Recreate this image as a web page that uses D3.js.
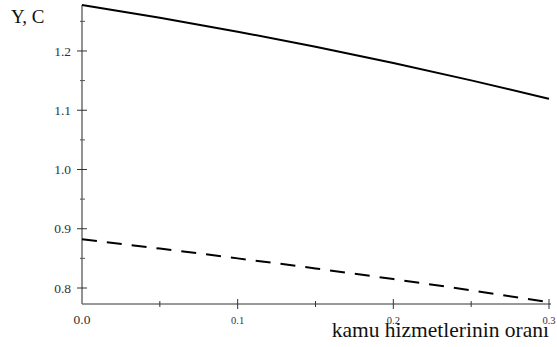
<!DOCTYPE html>
<html>
<head>
<meta charset="utf-8">
<script src="https://cdn.jsdelivr.net/npm/d3@7"></script>
<style>
  body { margin: 0; background: #fff; }
  text { font-family: "Liberation Serif", "Times New Roman", serif; }
</style>
</head>
<body>
<div id="vis"></div>
<script>
// values
const share = [0, 0.05, 0.1, 0.15, 0.2, 0.25, 0.3];
const yValues = [1.2776, 1.2561, 1.2326, 1.2072, 1.1798, 1.1504, 1.1194];
const cValues = [0.8822, 0.8665, 0.8500, 0.8330, 0.8150, 0.7960, 0.7760];
const xMajor = [0.1, 0.2, 0.3];
const xMinor = [0.05, 0.15, 0.25];
const xLabels = [0.0, 0.1, 0.2, 0.3];
const yMajor = [0.8, 0.9, 1.0, 1.1, 1.2];
const yMinor = [0.85, 0.95, 1.05, 1.15, 1.25];

const width = 557, height = 347;
const svg = d3.select("#vis").append("svg")
  .attr("width", width).attr("height", height);

const x = d3.scaleLinear().domain([0, 0.3]).range([82, 549]);
const y = d3.scaleLinear().domain([0.773, 1.2776]).range([304, 5]);
const y0 = y(0.773);

// x axis
const gx = svg.append("g");
gx.append("line")
  .attr("x1", x(0)).attr("x2", x(0.3) + 2)
  .attr("y1", y0).attr("y2", y0)
  .attr("stroke", "#333").attr("stroke-width", 1);
gx.selectAll(".xmaj").data(xMajor).join("line")
  .attr("x1", d => x(d)).attr("x2", d => x(d))
  .attr("y1", y0 - 5).attr("y2", y0 + 5)
  .attr("stroke", "#333");
gx.selectAll(".xmin").data(xMinor).join("line")
  .attr("x1", d => x(d)).attr("x2", d => x(d))
  .attr("y1", y0 - 3).attr("y2", y0 + 3)
  .attr("stroke", "#333");
// the 0.0 label is drawn bigger than the others in the original
gx.selectAll("text").data(xLabels).join("text")
  .attr("x", d => x(d)).attr("y", 324)
  .attr("text-anchor", "middle")
  .attr("font-size", d => d === 0 ? 13.5 : 10.5).attr("fill", "#333")
  .text(d => d3.format(".1f")(d));

// y axis
const gy = svg.append("g");
gy.append("line")
  .attr("x1", x(0)).attr("x2", x(0))
  .attr("y1", y(1.2776)).attr("y2", y0)
  .attr("stroke", "#777").attr("stroke-width", 1.6);
gy.selectAll(".ymaj").data(yMajor).join("line")
  .attr("x1", x(0) - 5).attr("x2", x(0) + 5)
  .attr("y1", d => y(d)).attr("y2", d => y(d))
  .attr("stroke", "#333");
gy.selectAll(".ymin").data(yMinor).join("line")
  .attr("x1", x(0) - 2).attr("x2", x(0) + 3)
  .attr("y1", d => y(d)).attr("y2", d => y(d))
  .attr("stroke", "#555");
gy.selectAll("text").data(yMajor).join("text")
  .attr("x", 71).attr("y", d => y(d))
  .attr("dy", "0.35em")
  .attr("text-anchor", "end")
  .attr("font-size", 13.5).attr("fill", "#333")
  .text(d => d3.format(".1f")(d));

// curves
const line = d3.line().x(d => x(d[0])).y(d => y(d[1])).curve(d3.curveMonotoneX);
svg.append("path")
  .datum(d3.zip(share, yValues))
  .attr("d", line)
  .attr("fill", "none").attr("stroke", "#000").attr("stroke-width", 2);
svg.append("path")
  .datum(d3.zip(share, cValues))
  .attr("d", line)
  .attr("fill", "none").attr("stroke", "#000").attr("stroke-width", 2)
  .attr("stroke-dasharray", "15,10");

// titles
svg.append("text").attr("x", 11).attr("y", 23)
  .attr("font-size", 19).attr("fill", "#111").text("Y, C");
svg.append("text").attr("x", 549).attr("y", 337)
  .attr("text-anchor", "end")
  .attr("font-size", 21.5).attr("fill", "#111").text("kamu hizmetlerinin oranı");
</script>
</body>
</html>
